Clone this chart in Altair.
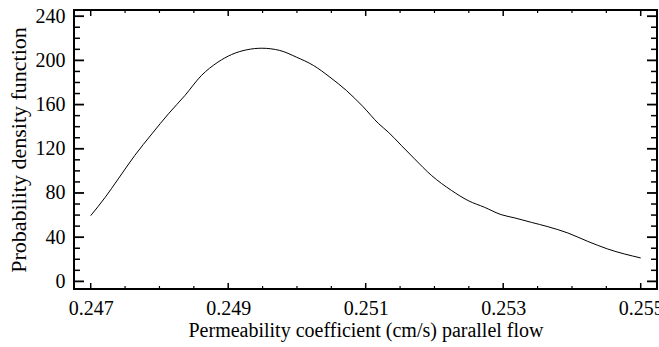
import altair as alt
import pandas as pd

# Curve
xs = [0.24700, 0.24721, 0.24740, 0.24764, 0.24789, 0.24813, 0.24837, 0.24861,
      0.24885, 0.24905, 0.24927, 0.24949, 0.24975, 0.24999, 0.25024, 0.25048,
      0.25072, 0.25096, 0.25119, 0.25133, 0.25152, 0.25171, 0.25196, 0.25225,
      0.25249, 0.25273, 0.25297, 0.25317, 0.25341, 0.25365, 0.25394, 0.25423,
      0.25452, 0.25500]
ys = [59.5, 76.0, 92.7, 113.9, 133.5, 151.6, 168.2, 186.3,
      198.4, 205.3, 209.6, 211.0, 209.0, 203.0, 195.4, 184.8,
      172.7, 158.2, 142.6, 135.0, 122.9, 110.9, 95.7, 82.2,
      73.1, 67.0, 60.4, 57.4, 53.4, 49.5, 43.8, 36.2,
      29.3, 21.2]

x_major = [0.247, 0.249, 0.251, 0.253, 0.255]
x_minor = [0.2475, 0.248, 0.2485, 0.2495, 0.250, 0.2505, 0.2515, 0.252,
           0.2525, 0.2535, 0.254, 0.2545]
y_major = [0, 40, 80, 120, 160, 200, 240]
y_minor = [10, 20, 30, 50, 60, 70, 90, 100, 110, 130, 140, 150, 170, 180,
           190, 210, 220, 230]

W, H = 583, 279
FONT = "Liberation Serif"
FS = 20

xsc = alt.Scale(domain=[0.246757, 0.255237], nice=False, zero=False)
ysc = alt.Scale(domain=[-6.9, 245.6], nice=False, zero=False)

x_axis = alt.Axis(values=x_major, format=".3f", ticks=False, domain=False,
                  grid=False, labelFont=FONT, labelFontSize=FS,
                  labelColor="black", labelPadding=9, labelFlush=False,
                  title="Permeability coefficient (cm/s) parallel flow",
                  titleFont=FONT, titleFontSize=FS, titleFontWeight="normal",
                  titleColor="black", titlePadding=2)
y_axis = alt.Axis(values=y_major, ticks=False, domain=False, grid=False,
                  labelFont=FONT, labelFontSize=FS, labelColor="black",
                  labelPadding=9, title="Probability density function",
                  titleFont=FONT, titleFontSize=22, titleFontWeight="normal",
                  titleColor="black", titlePadding=5)

df = pd.DataFrame({"x": xs, "y": ys})

line = alt.Chart(df).mark_line(color="black", strokeWidth=1,
                               interpolate="monotone").encode(
    x=alt.X("x:Q", scale=xsc, axis=x_axis),
    y=alt.Y("y:Q", scale=ysc, axis=y_axis),
)


def xticks(vals, length, sw):
    d = pd.DataFrame({"x": vals})
    bottom = alt.Chart(d).mark_rule(color="black", strokeWidth=sw).encode(
        x=alt.X("x:Q", scale=xsc, axis=x_axis),
        y=alt.value(H), y2=alt.value(H - length))
    top = alt.Chart(d).mark_rule(color="black", strokeWidth=sw).encode(
        x=alt.X("x:Q", scale=xsc, axis=x_axis),
        y=alt.value(0), y2=alt.value(length))
    return [bottom, top]


def yticks(vals, length, sw):
    d = pd.DataFrame({"y": vals})
    left = alt.Chart(d).mark_rule(color="black", strokeWidth=sw).encode(
        y=alt.Y("y:Q", scale=ysc, axis=y_axis),
        x=alt.value(0), x2=alt.value(length))
    right = alt.Chart(d).mark_rule(color="black", strokeWidth=sw).encode(
        y=alt.Y("y:Q", scale=ysc, axis=y_axis),
        x=alt.value(W), x2=alt.value(W - length))
    return [left, right]


layers = [line]
layers += xticks(x_major, 6, 1.5)
layers += xticks(x_minor, 3, 1.2)
layers += yticks(y_major, 10, 1.8)
layers += yticks(y_minor, 6, 1.5)

chart = alt.layer(*layers).properties(
    width=W, height=H, autosize="none",
    padding={"left": 74, "top": 10, "right": 2, "bottom": 58},
    background="white",
).configure_view(stroke="black", strokeWidth=2)

chart.save("out.html", embed_options={"renderer": "svg", "actions": False})
